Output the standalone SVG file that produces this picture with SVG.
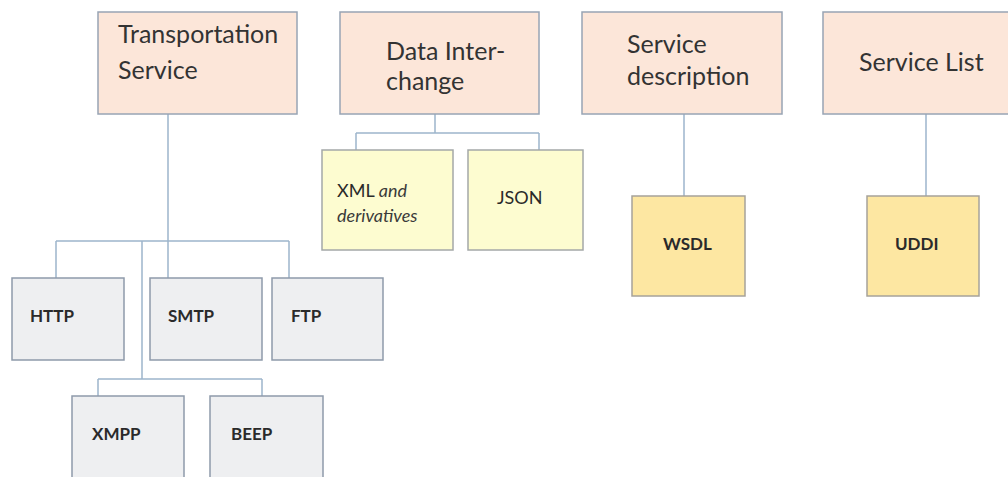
<svg xmlns="http://www.w3.org/2000/svg" width="1008" height="477" viewBox="0 0 1008 477">
  <style>
    .head { fill: #fce6d9; stroke: #98a4b4; stroke-width: 1.5; }
    .proto { fill: #eeeff1; stroke: #8e9aaa; stroke-width: 1.5; }
    .fmt { fill: #fdfcd0; stroke: #a4a8a8; stroke-width: 1.5; }
    .reg { fill: #fde7a2; stroke: #a6a39a; stroke-width: 1.5; }
    .link { fill: none; stroke: #9db5cc; stroke-width: 1.5; }
    .ht { font-family: Lato, "Open Sans", sans-serif; font-size: 25px; fill: #333333; }
    .st { font-family: Lato, "Open Sans", sans-serif; font-size: 17px; font-weight: bold; fill: #2a2a2a; }
    .nt { font-family: Lato, "Open Sans", sans-serif; font-size: 18px; fill: #2a2a2a; }
    .it { font-family: Lato, "Open Sans", sans-serif; font-size: 18px; font-style: italic; fill: #3a3a3a; }
  </style>
  <rect width="1008" height="477" fill="#ffffff"/>

  <g id="connectors">
    <!-- Transportation Service tree -->
    <path class="link" d="M168 114 V241 M56 241 H289 M56 241 V278 M168 241 V278 M289 241 V278"/>
    <path class="link" d="M142 241 V379 M98 379 H262 M98 379 V396 M262 379 V396"/>
    <!-- Data Interchange tree -->
    <path class="link" d="M435 114 V133 M356 133 H539 M356 133 V150 M539 133 V150"/>
    <!-- Service description / Service List -->
    <path class="link" d="M684 114 V196"/>
    <path class="link" d="M926 114 V196"/>
  </g>

  <g id="transportation">
    <rect class="head" x="98" y="12" width="199" height="102"/>
    <text class="ht" x="118" y="43">Transportation</text>
    <text class="ht" x="118" y="79">Service</text>
  </g>
  <g id="data-interchange">
    <rect class="head" x="340" y="12" width="199" height="102"/>
    <text class="ht" x="386" y="60">Data Inter-</text>
    <text class="ht" x="386" y="90">change</text>
  </g>
  <g id="service-description">
    <rect class="head" x="582" y="12" width="200" height="102"/>
    <text class="ht" x="627" y="53">Service</text>
    <text class="ht" x="627" y="85">description</text>
  </g>
  <g id="service-list">
    <rect class="head" x="823" y="12" width="200" height="102"/>
    <text class="ht" x="859" y="71">Service List</text>
  </g>

  <g id="http">
    <rect class="proto" x="12" y="278" width="112" height="82"/>
    <text class="st" x="30" y="322">HTTP</text>
  </g>
  <g id="smtp">
    <rect class="proto" x="150" y="278" width="112" height="82"/>
    <text class="st" x="168" y="322">SMTP</text>
  </g>
  <g id="ftp">
    <rect class="proto" x="272" y="278" width="111" height="82"/>
    <text class="st" x="291" y="322">FTP</text>
  </g>
  <g id="xmpp">
    <rect class="proto" x="72" y="396" width="112" height="90"/>
    <text class="st" x="92" y="440">XMPP</text>
  </g>
  <g id="beep">
    <rect class="proto" x="210" y="396" width="113" height="90"/>
    <text class="st" x="231" y="440">BEEP</text>
  </g>

  <g id="xml">
    <rect class="fmt" x="322" y="150" width="131" height="100"/>
    <text x="337" y="197"><tspan class="nt">XML</tspan><tspan class="it"> and</tspan></text>
    <text class="it" x="337" y="222">derivatives</text>
  </g>
  <g id="json">
    <rect class="fmt" x="468" y="150" width="115" height="100"/>
    <text class="nt" x="497" y="204">JSON</text>
  </g>

  <g id="wsdl">
    <rect class="reg" x="632" y="196" width="113" height="100"/>
    <text class="st" x="663" y="250">WSDL</text>
  </g>
  <g id="uddi">
    <rect class="reg" x="867" y="196" width="112" height="100"/>
    <text class="st" x="895" y="250">UDDI</text>
  </g>
</svg>
